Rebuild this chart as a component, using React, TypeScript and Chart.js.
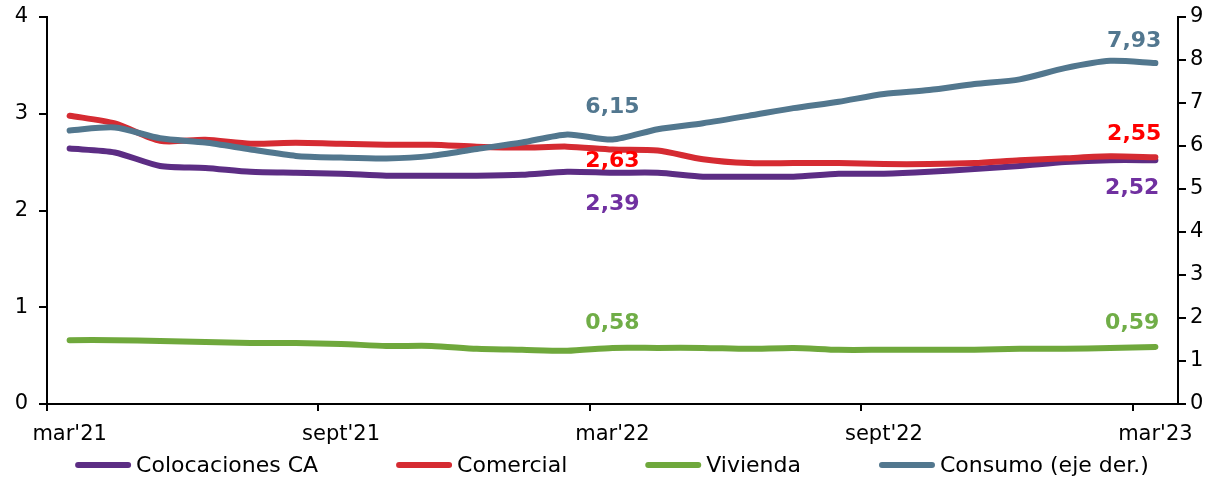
import React, { useEffect, useRef } from "react";
import { Chart, registerables } from "chart.js";

Chart.register(...registerables);

// Monthly categories, March 2021 to March 2023
const months = [
  "mar'21", "abr'21", "may'21", "jun'21", "jul'21", "ago'21", "sept'21", "oct'21", "nov'21", "dic'21",
  "ene'22", "feb'22", "mar'22", "abr'22", "may'22", "jun'22", "jul'22", "ago'22", "sept'22", "oct'22",
  "nov'22", "dic'22", "ene'23", "feb'23", "mar'23",
];

// Left axis series (%)
const colocacionesCA = [
  2.64, 2.60, 2.46, 2.44, 2.40, 2.39, 2.38, 2.36, 2.36, 2.36, 2.37, 2.40, 2.39,
  2.39, 2.35, 2.35, 2.35, 2.38, 2.38, 2.40, 2.43, 2.46, 2.50, 2.52, 2.52,
];
const comercial = [
  2.98, 2.90, 2.72, 2.73, 2.69, 2.70, 2.69, 2.68, 2.68, 2.66, 2.65, 2.66, 2.63,
  2.62, 2.53, 2.49, 2.49, 2.49, 2.48, 2.48, 2.49, 2.52, 2.54, 2.56, 2.55,
];
const vivienda = [
  0.66, 0.66, 0.65, 0.64, 0.63, 0.63, 0.62, 0.60, 0.60, 0.57, 0.56, 0.55, 0.58,
  0.58, 0.58, 0.57, 0.58, 0.56, 0.56, 0.56, 0.56, 0.57, 0.57, 0.58, 0.59,
];
// Right axis series (%)
const consumo = [
  6.36, 6.43, 6.18, 6.08, 5.92, 5.77, 5.73, 5.71, 5.77, 5.93, 6.08, 6.27, 6.15,
  6.39, 6.53, 6.70, 6.88, 7.03, 7.21, 7.30, 7.44, 7.55, 7.81, 7.98, 7.93,
];

const seriesNames = ["Colocaciones CA", "Comercial", "Vivienda", "Consumo (eje der.)"];

const FONT = "'DejaVu Sans', 'Verdana', sans-serif";

// Value callouts: dataset index, point index, offset from the point, alignment, colour
const callouts = [
  { ds: 3, i: 12, dx: 0, dy: -32, align: "center", color: "#52778F" },
  { ds: 1, i: 12, dx: 0, dy: 12, align: "center", color: "#FF0000" },
  { ds: 0, i: 12, dx: 0, dy: 32, align: "center", color: "#7030A0" },
  { ds: 2, i: 12, dx: 0, dy: -25, align: "center", color: "#70AD47" },
  { ds: 3, i: 24, dx: 6, dy: -22, align: "right", color: "#52778F" },
  { ds: 1, i: 24, dx: 6, dy: -23, align: "right", color: "#FF0000" },
  { ds: 0, i: 24, dx: 4, dy: 28, align: "right", color: "#7030A0" },
  { ds: 2, i: 24, dx: 4, dy: -24, align: "right", color: "#70AD47" },
];

const calloutPlugin = {
  id: "callouts",
  afterDatasetsDraw(chart: any) {
    const { ctx } = chart;
    ctx.save();
    ctx.font = `bold 22px ${FONT}`;
    ctx.textBaseline = "middle";
    for (const c of callouts) {
      const pt = chart.getDatasetMeta(c.ds).data[c.i];
      const v = chart.data.datasets[c.ds].data[c.i] as number;
      if (!pt) continue;
      ctx.fillStyle = c.color;
      ctx.textAlign = c.align;
      ctx.fillText(v.toFixed(2).replace(".", ","), pt.x + c.dx, pt.y + c.dy);
    }
    ctx.restore();
  },
};

// Legend row drawn under the axis: rounded line sample followed by the series name
const legendPlugin = {
  id: "bottomLegend",
  afterDraw(chart: any) {
    const { ctx } = chart;
    const sample = 56;
    const textGap = 5;
    const itemGap = 78;
    const y = 465;
    ctx.save();
    ctx.font = `22px ${FONT}`;
    const items = chart.data.datasets.map((d: any) => ({
      label: d.label as string,
      color: d.borderColor as string,
      w: sample + textGap + ctx.measureText(d.label).width,
    }));
    const total = items.reduce((s: number, it: any) => s + it.w, 0) + itemGap * (items.length - 1);
    let x = 612 - total / 2;
    ctx.textBaseline = "middle";
    ctx.textAlign = "left";
    for (const it of items) {
      ctx.strokeStyle = it.color;
      ctx.lineWidth = 6;
      ctx.lineCap = "round";
      ctx.beginPath();
      ctx.moveTo(x + 3, y);
      ctx.lineTo(x + sample - 3, y);
      ctx.stroke();
      ctx.fillStyle = "#000";
      ctx.fillText(it.label, x + sample + textGap, y + 1);
      x += it.w + itemGap;
    }
    ctx.restore();
  },
};

// Fixed axis width, with no extra room reserved above or below for the end labels
const fixVertical = (w: number) => (s: any) => {
  s.width = w;
  s.paddingTop = 0;
  s.paddingBottom = 0;
};

export default function App() {
  const canvasRef = useRef<HTMLCanvasElement | null>(null);

  useEffect(() => {
    if (!canvasRef.current) return;
    const lineStyle = {
      pointRadius: 0,
      pointHoverRadius: 0,
      borderWidth: 6,
      tension: 0.25,
      borderCapStyle: "round" as const,
      borderJoinStyle: "round" as const,
      fill: false,
    };
    const chart = new Chart(canvasRef.current, {
      type: "line",
      data: {
        labels: months,
        datasets: [
          { ...lineStyle, label: seriesNames[0], data: colocacionesCA, borderColor: "#5C2D84", backgroundColor: "#5C2D84", yAxisID: "y", order: 2 },
          { ...lineStyle, label: seriesNames[1], data: comercial, borderColor: "#D52B32", backgroundColor: "#D52B32", yAxisID: "y", order: 1 },
          { ...lineStyle, label: seriesNames[2], data: vivienda, borderColor: "#6FA83C", backgroundColor: "#6FA83C", yAxisID: "y", order: 3 },
          { ...lineStyle, label: seriesNames[3], data: consumo, borderColor: "#52778E", backgroundColor: "#52778E", yAxisID: "y1", order: 0 },
        ],
      },
      options: {
        responsive: true,
        maintainAspectRatio: false,
        animation: false,
        events: [],
        layout: { padding: { top: 17, bottom: 30, left: 0, right: 0 } },
        plugins: {
          legend: { display: false },
          tooltip: { enabled: false },
        },
        scales: {
          x: {
            type: "category",
            offset: true,
            afterFit: (s: any) => { s.height = 46; s.paddingLeft = 0; s.paddingRight = 0; },
            border: { display: true, color: "#000", width: 2 },
            grid: {
              offset: true,
              drawOnChartArea: false,
              drawTicks: true,
              tickLength: 7,
              lineWidth: 2,
              color: (ctx: any) => (ctx.index % 6 === 0 ? "#000" : "rgba(0,0,0,0)"),
            },
            ticks: {
              autoSkip: false,
              maxRotation: 0,
              padding: 11,
              color: "#000",
              font: { family: FONT, size: 21 },
              callback: (_v: any, i: number) => (i % 6 === 0 ? months[i] : ""),
            },
          },
          y: {
            position: "left",
            min: 0,
            max: 4,
            afterFit: fixVertical(47),
            border: { display: true, color: "#000", width: 2 },
            grid: { drawOnChartArea: false, drawTicks: true, tickLength: 8, color: "#000", lineWidth: 2 },
            ticks: { stepSize: 1, padding: 11, color: "#000", font: { family: FONT, size: 21 } },
          },
          y1: {
            position: "right",
            min: 0,
            max: 9,
            afterFit: fixVertical(39),
            border: { display: true, color: "#000", width: 2 },
            grid: { drawOnChartArea: false, drawTicks: true, tickLength: 8, color: "#000", lineWidth: 2 },
            ticks: { stepSize: 1, padding: 4, color: "#000", font: { family: FONT, size: 21 } },
          },
        },
      },
      plugins: [calloutPlugin, legendPlugin],
    });
    return () => chart.destroy();
  }, []);

  return (
    <div style={{ position: "absolute", left: 0, top: 0, width: 1217, height: 480, background: "#fff" }}>
      <canvas ref={canvasRef} />
    </div>
  );
}
